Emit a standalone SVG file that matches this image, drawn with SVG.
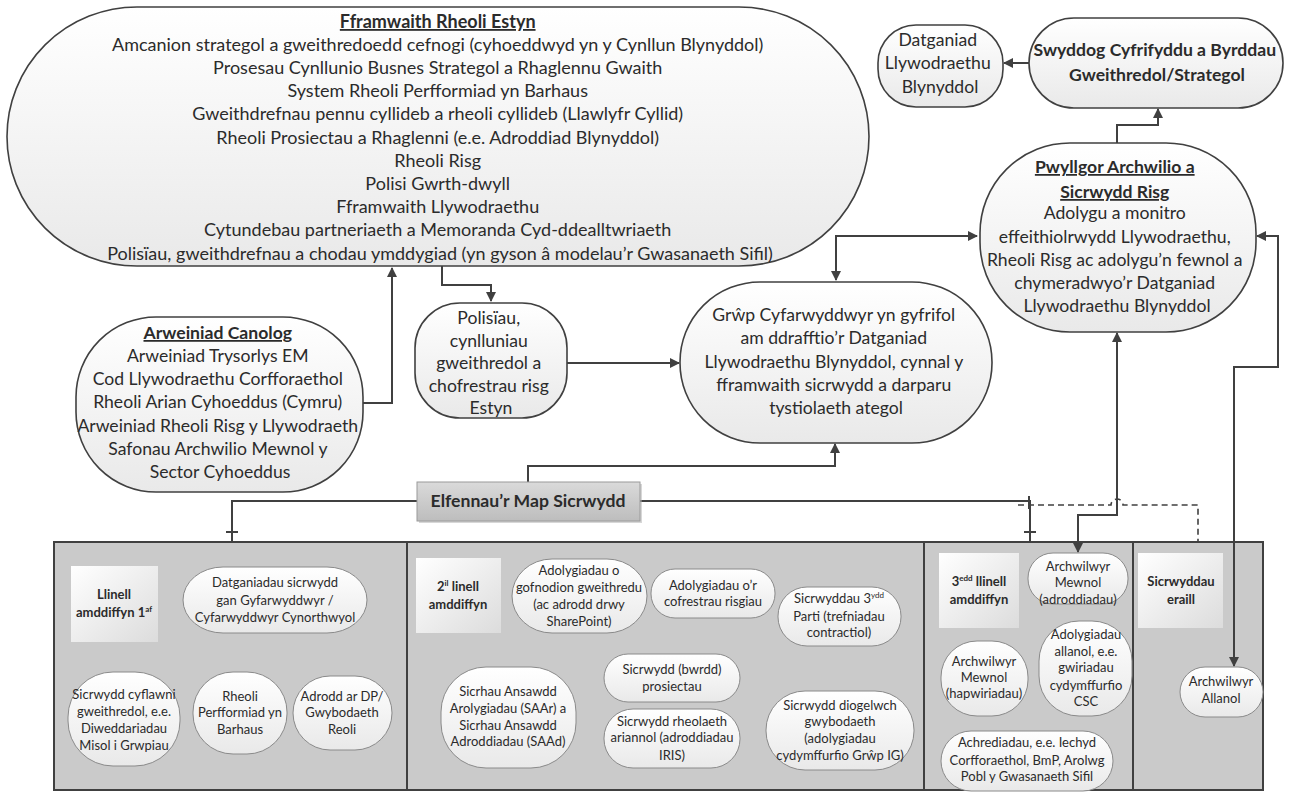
<svg xmlns="http://www.w3.org/2000/svg" width="1293" height="792" viewBox="0 0 1293 792">
<defs>
<linearGradient id="g1" x1="0" y1="0" x2="0" y2="1"><stop offset="0" stop-color="#ffffff"/><stop offset="1" stop-color="#e9e9e9"/></linearGradient>
<linearGradient id="g2" x1="0" y1="0" x2="1" y2="1"><stop offset="0" stop-color="#ffffff"/><stop offset="1" stop-color="#dcdcdc"/></linearGradient>
<linearGradient id="g3" x1="0" y1="0" x2="0" y2="1"><stop offset="0" stop-color="#dadada"/><stop offset="1" stop-color="#bdbdbd"/></linearGradient>
<marker id="ah" viewBox="0 0 10 10" refX="9" refY="5" markerWidth="5" markerHeight="5" orient="auto-start-reverse" markerUnits="strokeWidth"><path d="M0,0 L10,5 L0,10 z" fill="#404040"/></marker>
<style>
.n{fill:url(#g1);stroke:#404040;stroke-width:1.6}
.s{fill:url(#g1);stroke:#8a8a8a;stroke-width:1}
.lb{fill:url(#g2);stroke:none}
.p{fill:#cacaca;stroke:#404040;stroke-width:2}
.t{font-family:Lato,"Liberation Sans",sans-serif;font-size:17.6px;fill:#2b2b2b;text-anchor:middle}
.tl{font-size:18px}
.ts{font-family:Lato,"Liberation Sans",sans-serif;font-size:13px;fill:#2b2b2b;text-anchor:middle}
.b{font-weight:bold}
.u{text-decoration:underline}
.c{fill:none;stroke:#404040;stroke-width:2}
.d{fill:none;stroke:#404040;stroke-width:1.6;stroke-dasharray:6 4}
</style>
</defs>

<g id="panels">
<rect class="p" x="54" y="542" width="353" height="248"/>
<rect class="p" x="407" y="542" width="517" height="248"/>
<rect class="p" x="924" y="542" width="209" height="248"/>
<rect class="p" x="1133" y="542" width="130" height="248"/>
</g>

<g id="connectors">
<path class="c" d="M363,403 H392 V268" marker-end="url(#ah)"/>
<path class="c" d="M442,266 V285 H491 V301" marker-end="url(#ah)"/>
<path class="c" d="M567,363 H679" marker-end="url(#ah)"/>
<path class="c" d="M836,280 V236 H977" marker-start="url(#ah)" marker-end="url(#ah)"/>
<path class="c" d="M528,482 V466 H835 V444" marker-end="url(#ah)"/>
<path class="c" d="M417,501 H232 V542"/>
<path class="c" d="M640,501 H1030 V542"/>
<path class="c" d="M226,532 H238 M1024,532 H1036 M1029,496 V509"/>
<path class="c" d="M1117,143 V125 H1158 V109" marker-end="url(#ah)"/>
<path class="c" d="M1029,63 H1004" marker-end="url(#ah)"/>
<path class="c" d="M1117,333 V515 H1078 V552" marker-start="url(#ah)" marker-end="url(#ah)"/>
<path class="c" d="M1257,236 H1278 V367 H1234 V666" marker-start="url(#ah)" marker-end="url(#ah)"/>
<path class="d" d="M1018,505 H1111 A6,6 0 0 1 1123,505 H1198 V542"/>
</g>

<g id="fframwaith">
<rect class="n" x="7" y="7" width="862" height="259" rx="130" ry="129.5"/>
<text class="t tl"><tspan class="b u" x="440" y="28">Fframwaith Rheoli Estyn</tspan>
<tspan x="440" y="51">Amcanion strategol a gweithredoedd cefnogi (cyhoeddwyd yn y Cynllun Blynyddol)</tspan>
<tspan x="440" y="74">Prosesau Cynllunio Busnes Strategol a Rhaglennu Gwaith</tspan>
<tspan x="440" y="97">System Rheoli Perfformiad yn Barhaus</tspan>
<tspan x="440" y="120">Gweithdrefnau pennu cyllideb a rheoli cyllideb (Llawlyfr Cyllid)</tspan>
<tspan x="440" y="144">Rheoli Prosiectau a Rhaglenni (e.e. Adroddiad Blynyddol)</tspan>
<tspan x="440" y="167">Rheoli Risg</tspan>
<tspan x="440" y="190">Polisi Gwrth-dwyll</tspan>
<tspan x="440" y="213">Fframwaith Llywodraethu</tspan>
<tspan x="440" y="236">Cytundebau partneriaeth a Memoranda Cyd-ddealltwriaeth</tspan>
<tspan x="440" y="260">Polisïau, gweithdrefnau a chodau ymddygiad (yn gyson â modelau’r Gwasanaeth Sifil)</tspan></text>
</g>

<g id="arweiniad">
<rect class="n" x="76" y="317" width="287" height="175" rx="80" ry="80"/>
<text class="t"><tspan class="b u" x="220" y="339">Arweiniad Canolog</tspan>
<tspan x="220" y="362">Arweiniad Trysorlys EM</tspan>
<tspan x="220" y="385">Cod Llywodraethu Corfforaethol</tspan>
<tspan x="220" y="408">Rheoli Arian Cyhoeddus (Cymru)</tspan>
<tspan x="220" y="432">Arweiniad Rheoli Risg y Llywodraeth</tspan>
<tspan x="220" y="455">Safonau Archwilio Mewnol y</tspan>
<tspan x="220" y="478">Sector Cyhoeddus</tspan></text>
</g>

<g id="polisiau">
<rect class="n" x="415" y="303" width="152" height="115" rx="45" ry="45"/>
<text class="t"><tspan x="491" y="324">Polisïau,</tspan>
<tspan x="491" y="347">cynlluniau</tspan>
<tspan x="491" y="369">gweithredol a</tspan>
<tspan x="491" y="392">chofrestrau risg</tspan>
<tspan x="491" y="414">Estyn</tspan></text>
</g>

<g id="grwp">
<rect class="n" x="680" y="282" width="312" height="161" rx="80" ry="80"/>
<text class="t"><tspan x="836" y="321">Grŵp Cyfarwyddwyr yn gyfrifol</tspan>
<tspan x="836" y="344">am ddrafftio’r Datganiad</tspan>
<tspan x="836" y="368">Llywodraethu Blynyddol, cynnal y</tspan>
<tspan x="836" y="391">fframwaith sicrwydd a darparu</tspan>
<tspan x="836" y="414">tystiolaeth ategol</tspan></text>
</g>

<g id="datganiad">
<rect class="n" x="878" y="25" width="125" height="82" rx="38" ry="38"/>
<text class="t"><tspan x="940" y="46">Datganiad</tspan>
<tspan x="940" y="69">Llywodraethu</tspan>
<tspan x="940" y="93">Blynyddol</tspan></text>
</g>

<g id="swyddog">
<rect class="n" x="1029" y="18" width="254" height="90" rx="45" ry="45"/>
<text class="t b"><tspan x="1157" y="56">Swyddog Cyfrifyddu a Byrddau</tspan>
<tspan x="1157" y="81">Gweithredol/Strategol</tspan></text>
</g>

<g id="pwyllgor">
<rect class="n" x="980" y="143" width="276" height="189" rx="90" ry="90"/>
<text class="t"><tspan class="b u" x="1117" y="173">Pwyllgor Archwilio a</tspan>
<tspan class="b u" x="1117" y="198">Sicrwydd Risg</tspan>
<tspan x="1117" y="219">Adolygu a monitro</tspan>
<tspan x="1117" y="243">effeithiolrwydd Llywodraethu,</tspan>
<tspan x="1117" y="266">Rheoli Risg ac adolygu’n fewnol a</tspan>
<tspan x="1117" y="289">chymeradwyo’r Datganiad</tspan>
<tspan x="1117" y="312">Llywodraethu Blynyddol</tspan></text>
</g>

<g id="elfennau">
<rect x="419" y="484" width="223" height="39" fill="#b0b0b0" opacity="0.5"/>
<rect x="417" y="482" width="223" height="39" fill="url(#g3)" stroke="#9a9a9a" stroke-width="1"/>
<text class="t b" x="528" y="507">Elfennau’r Map Sicrwydd</text>
</g>

<g id="llinell1">
<rect class="lb" x="71" y="566" width="87" height="76"/>
<text class="ts b"><tspan x="114" y="599">Llinell</tspan><tspan x="114" y="617">amddiffyn 1<tspan font-size="8" dy="-5">af</tspan></tspan></text>
</g>
<g id="datganiadau-sicrwydd">
<rect class="s" x="183" y="567" width="184" height="66" rx="40" ry="33"/>
<text class="ts"><tspan x="275" y="587">Datganiadau sicrwydd</tspan><tspan x="275" y="605">gan Gyfarwyddwyr /</tspan><tspan x="275" y="622">Cyfarwyddwyr Cynorthwyol</tspan></text>
</g>
<g id="sicrwydd-cyflawni">
<rect class="s" x="68" y="672" width="112" height="94" rx="45" ry="45"/>
<text class="ts"><tspan x="124" y="699">Sicrwydd cyflawni</tspan><tspan x="124" y="716">gweithredol, e.e.</tspan><tspan x="124" y="733">Diweddariadau</tspan><tspan x="124" y="750">Misol i Grwpiau</tspan></text>
</g>
<g id="rheoli-perfformiad">
<rect class="s" x="193" y="672" width="94" height="82" rx="40" ry="40"/>
<text class="ts"><tspan x="240" y="701">Rheoli</tspan><tspan x="240" y="717">Perfformiad yn</tspan><tspan x="240" y="734">Barhaus</tspan></text>
</g>
<g id="adrodd-dp">
<rect class="s" x="293" y="676" width="99" height="74" rx="37" ry="37"/>
<text class="ts"><tspan x="342" y="701">Adrodd ar DP/</tspan><tspan x="342" y="717">Gwybodaeth</tspan><tspan x="342" y="734">Reoli</tspan></text>
</g>

<g id="llinell2">
<rect class="lb" x="416" y="558" width="85" height="75"/>
<text class="ts b"><tspan x="458" y="591">2<tspan font-size="8" dy="-5">il</tspan><tspan dy="5"> linell</tspan></tspan><tspan x="458" y="609">amddiffyn</tspan></text>
</g>
<g id="adolygiadau-gofnodion">
<rect class="s" x="512" y="559" width="135" height="74" rx="40" ry="37"/>
<text class="ts"><tspan x="579" y="575">Adolygiadau o</tspan><tspan x="579" y="592">gofnodion gweithredu</tspan><tspan x="579" y="609">(ac adrodd drwy</tspan><tspan x="579" y="626">SharePoint)</tspan></text>
</g>
<g id="adolygiadau-cofrestrau">
<rect class="s" x="651" y="569" width="124" height="49" rx="24" ry="24"/>
<text class="ts"><tspan x="713" y="590">Adolygiadau o’r</tspan><tspan x="713" y="606">cofrestrau risgiau</tspan></text>
</g>
<g id="sicrwyddau-3ydd">
<rect class="s" x="778" y="587" width="123" height="59" rx="29" ry="29"/>
<text class="ts"><tspan x="839" y="603">Sicrwyddau 3<tspan font-size="8" dy="-5">ydd</tspan></tspan><tspan x="839" y="621">Parti (trefniadau</tspan><tspan x="839" y="637">contractiol)</tspan></text>
</g>
<g id="sicrwydd-bwrdd">
<rect class="s" x="604" y="654" width="136" height="48" rx="24" ry="24"/>
<text class="ts"><tspan x="672" y="674">Sicrwydd (bwrdd)</tspan><tspan x="672" y="691">prosiectau</tspan></text>
</g>
<g id="sicrwydd-rheolaeth">
<rect class="s" x="604" y="709" width="136" height="59" rx="29" ry="29"/>
<text class="ts"><tspan x="672" y="726">Sicrwydd rheolaeth</tspan><tspan x="672" y="742">ariannol (adroddiadau</tspan><tspan x="672" y="760">IRIS)</tspan></text>
</g>
<g id="sicrhau-ansawdd">
<rect class="s" x="441" y="667" width="135" height="101" rx="45" ry="45"/>
<text class="ts"><tspan x="508" y="696">Sicrhau Ansawdd</tspan><tspan x="508" y="713">Arolygiadau (SAAr) a</tspan><tspan x="508" y="730">Sicrhau Ansawdd</tspan><tspan x="508" y="746">Adroddiadau (SAAd)</tspan></text>
</g>
<g id="sicrwydd-diogelwch">
<rect class="s" x="766" y="691" width="148" height="79" rx="39" ry="39"/>
<text class="ts"><tspan x="840" y="710">Sicrwydd diogelwch</tspan><tspan x="840" y="726">gwybodaeth</tspan><tspan x="840" y="743">(adolygiadau</tspan><tspan x="840" y="760">cydymffurfio Grŵp IG)</tspan></text>
</g>

<g id="llinell3">
<rect class="lb" x="939" y="553" width="80" height="75"/>
<text class="ts b"><tspan x="979" y="586">3<tspan font-size="8" dy="-5">edd</tspan><tspan dy="5"> llinell</tspan></tspan><tspan x="979" y="604">amddiffyn</tspan></text>
</g>
<g id="archwilwyr-mewnol-adroddiadau">
<rect class="s" x="1028" y="553" width="100" height="51" rx="25" ry="25"/>
<text class="ts"><tspan x="1078" y="571">Archwilwyr</tspan><tspan x="1078" y="587">Mewnol</tspan><tspan x="1078" y="604">(adroddiadau)</tspan></text>
</g>
<g id="adolygiadau-allanol">
<rect class="s" x="1039" y="621" width="93" height="95" rx="40" ry="40"/>
<text class="ts"><tspan x="1086" y="639">Adolygiadau</tspan><tspan x="1086" y="656">allanol, e.e.</tspan><tspan x="1086" y="672">gwiriadau</tspan><tspan x="1086" y="690">cydymffurfio</tspan><tspan x="1086" y="706">CSC</tspan></text>
</g>
<g id="archwilwyr-mewnol-hapwiriadau">
<rect class="s" x="941" y="641" width="87" height="75" rx="36" ry="36"/>
<text class="ts"><tspan x="984" y="666">Archwilwyr</tspan><tspan x="984" y="682">Mewnol</tspan><tspan x="984" y="698">(hapwiriadau)</tspan></text>
</g>
<g id="achrediadau">
<rect class="s" x="941" y="731" width="172" height="60" rx="30" ry="30"/>
<text class="ts"><tspan x="1027" y="747">Achrediadau, e.e. Iechyd</tspan><tspan x="1027" y="765">Corfforaethol, BmP, Arolwg</tspan><tspan x="1027" y="781">Pobl y Gwasanaeth Sifil</tspan></text>
</g>

<g id="sicrwyddau-eraill">
<rect class="lb" x="1138" y="553" width="85" height="75"/>
<text class="ts b"><tspan x="1181" y="586">Sicrwyddau</tspan><tspan x="1181" y="604">eraill</tspan></text>
</g>
<g id="archwilwyr-allanol">
<rect class="s" x="1180" y="667" width="83" height="50" rx="25" ry="25"/>
<text class="ts"><tspan x="1221" y="686">Archwilwyr</tspan><tspan x="1221" y="703">Allanol</tspan></text>
</g>
</svg>
